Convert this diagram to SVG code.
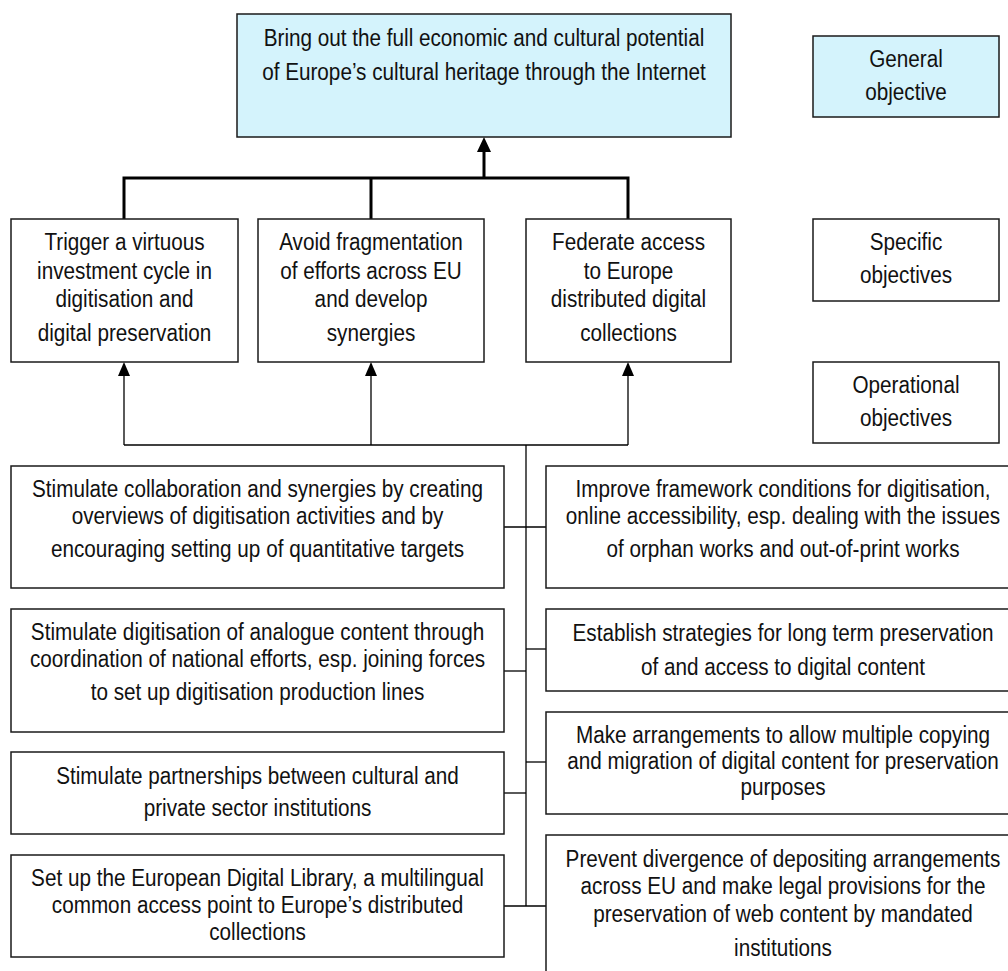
<svg xmlns="http://www.w3.org/2000/svg" width="1008" height="971" viewBox="0 0 1008 971">
<style>
.bg{fill:#ffffff}
.box{fill:#ffffff;stroke:#1a1a1a;stroke-width:1.5}
.gen{fill:#d4f3fc;stroke:#1a1a1a;stroke-width:1.5}
.t{font-family:'Liberation Sans',Arial,sans-serif;font-size:24.5px;fill:#111111;text-anchor:middle}
.thick{fill:none;stroke:#000000;stroke-width:3}
.thin{fill:none;stroke:#000000;stroke-width:1.3}
</style>
<defs>
<marker id="ahThick" viewBox="0 0 15 14" refX="0" refY="7" markerWidth="15" markerHeight="14" orient="auto" markerUnits="userSpaceOnUse"><path d="M0,0 L15,7 L0,14 Z" fill="#000000"/></marker>
<marker id="ahThin" viewBox="0 0 14 12" refX="0" refY="6" markerWidth="14" markerHeight="12" orient="auto" markerUnits="userSpaceOnUse"><path d="M0,0 L14,6 L0,12 Z" fill="#000000"/></marker>
</defs>
<rect class="bg" x="0" y="0" width="1008" height="971"/>

<g id="connectors">
<path class="thick" d="M124,219 V178 H628 V219"/>
<path class="thick" d="M371,178 V219"/>
<path class="thick" d="M484,178 V152" marker-end="url(#ahThick)"/>
<path class="thin" d="M124,445 H628"/>
<path class="thin" d="M124,445 V376" marker-end="url(#ahThin)"/>
<path class="thin" d="M371,445 V376" marker-end="url(#ahThin)"/>
<path class="thin" d="M628,445 V376" marker-end="url(#ahThin)"/>
<path class="thin" d="M526,445 V906"/>
<path class="thin" d="M504,527 H546"/>
<path class="thin" d="M504,671 H526"/>
<path class="thin" d="M526,649 H546"/>
<path class="thin" d="M504,793 H526"/>
<path class="thin" d="M526,762 H546"/>
<path class="thin" d="M504,906 H546"/>
</g>

<g id="general-objective-main">
<rect class="gen" x="237" y="14" width="494" height="123"/>
<text class="t" transform="translate(484 0) scale(0.845 1)"><tspan x="0" y="46">Bring out the full economic and cultural potential</tspan><tspan x="0" y="80">of Europe’s cultural heritage through the Internet</tspan></text>
</g>

<g id="label-general">
<rect class="gen" x="813" y="36" width="186" height="81"/>
<text class="t" transform="translate(906 0) scale(0.845 1)"><tspan x="0" y="67">General</tspan><tspan x="0" y="100">objective</tspan></text>
</g>

<g id="label-specific">
<rect class="box" x="813" y="219" width="186" height="82"/>
<text class="t" transform="translate(906 0) scale(0.845 1)"><tspan x="0" y="250">Specific</tspan><tspan x="0" y="283">objectives</tspan></text>
</g>

<g id="label-operational">
<rect class="box" x="813" y="362" width="186" height="81"/>
<text class="t" transform="translate(906 0) scale(0.845 1)"><tspan x="0" y="393">Operational</tspan><tspan x="0" y="426">objectives</tspan></text>
</g>

<g id="specific-1">
<rect class="box" x="11" y="219" width="227" height="143"/>
<text class="t" transform="translate(124.5 0) scale(0.845 1)"><tspan x="0" y="250">Trigger a virtuous</tspan><tspan x="0" y="279">investment cycle in</tspan><tspan x="0" y="307">digitisation and</tspan><tspan x="0" y="341">digital preservation</tspan></text>
</g>

<g id="specific-2">
<rect class="box" x="258" y="219" width="226" height="143"/>
<text class="t" transform="translate(371 0) scale(0.845 1)"><tspan x="0" y="250">Avoid fragmentation</tspan><tspan x="0" y="279">of efforts across EU</tspan><tspan x="0" y="307">and develop</tspan><tspan x="0" y="341">synergies</tspan></text>
</g>

<g id="specific-3">
<rect class="box" x="526" y="219" width="205" height="143"/>
<text class="t" transform="translate(628.5 0) scale(0.845 1)"><tspan x="0" y="250">Federate access</tspan><tspan x="0" y="279">to Europe</tspan><tspan x="0" y="307">distributed digital</tspan><tspan x="0" y="341">collections</tspan></text>
</g>

<g id="op-left-1">
<rect class="box" x="11" y="466" width="493" height="122"/>
<text class="t" transform="translate(257.5 0) scale(0.845 1)"><tspan x="0" y="497">Stimulate collaboration and synergies by creating</tspan><tspan x="0" y="524">overviews of digitisation activities and by</tspan><tspan x="0" y="557">encouraging setting up of quantitative targets</tspan></text>
</g>

<g id="op-left-2">
<rect class="box" x="11" y="609" width="493" height="123"/>
<text class="t" transform="translate(257.5 0) scale(0.845 1)"><tspan x="0" y="640">Stimulate digitisation of analogue content through</tspan><tspan x="0" y="667">coordination of national efforts, esp. joining forces</tspan><tspan x="0" y="700">to set up digitisation production lines</tspan></text>
</g>

<g id="op-left-3">
<rect class="box" x="11" y="752" width="493" height="82"/>
<text class="t" transform="translate(257.5 0) scale(0.845 1)"><tspan x="0" y="784">Stimulate partnerships between cultural and</tspan><tspan x="0" y="816">private sector institutions</tspan></text>
</g>

<g id="op-left-4">
<rect class="box" x="11" y="855" width="493" height="102"/>
<text class="t" transform="translate(257.5 0) scale(0.845 1)"><tspan x="0" y="886">Set up the European Digital Library, a multilingual</tspan><tspan x="0" y="913">common access point to Europe’s distributed</tspan><tspan x="0" y="940">collections</tspan></text>
</g>

<g id="op-right-1">
<rect class="box" x="546" y="466" width="474" height="122"/>
<text class="t" transform="translate(783 0) scale(0.845 1)"><tspan x="0" y="497">Improve framework conditions for digitisation,</tspan><tspan x="0" y="524">online accessibility, esp. dealing with the issues</tspan><tspan x="0" y="557">of orphan works and out-of-print works</tspan></text>
</g>

<g id="op-right-2">
<rect class="box" x="546" y="609" width="474" height="82"/>
<text class="t" transform="translate(783 0) scale(0.845 1)"><tspan x="0" y="641">Establish strategies for long term preservation</tspan><tspan x="0" y="675">of and access to digital content</tspan></text>
</g>

<g id="op-right-3">
<rect class="box" x="546" y="712" width="474" height="102"/>
<text class="t" transform="translate(783 0) scale(0.845 1)"><tspan x="0" y="743">Make arrangements to allow multiple copying</tspan><tspan x="0" y="769">and migration of digital content for preservation</tspan><tspan x="0" y="795">purposes</tspan></text>
</g>

<g id="op-right-4">
<rect class="box" x="546" y="835" width="474" height="160"/>
<text class="t" transform="translate(783 0) scale(0.845 1)"><tspan x="0" y="867">Prevent divergence of depositing arrangements</tspan><tspan x="0" y="894">across EU and make legal provisions for the</tspan><tspan x="0" y="922">preservation of web content by mandated</tspan><tspan x="0" y="956">institutions</tspan></text>
</g>
</svg>
